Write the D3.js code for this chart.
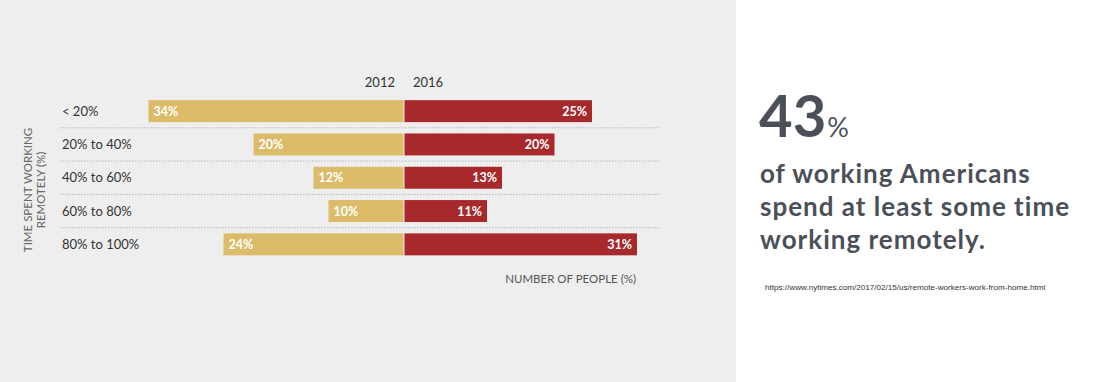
<!DOCTYPE html>
<html>
<head>
<meta charset="utf-8">
<script src="https://cdn.jsdelivr.net/npm/d3@7"></script>
<style>
  html, body { margin: 0; padding: 0; background: #ffffff; }
  svg { display: block; font-family: Lato, "Open Sans", sans-serif; }
</style>
</head>
<body>
<div id="chart"></div>
<script>
const categories = ["< 20%", "20% to 40%", "40% to 60%", "60% to 80%", "80% to 100%"];
const values2012 = [34, 20, 12, 10, 24];
const values2016 = [25, 20, 13, 11, 31];
const seriesLabels = ["2012", "2016"];
const yAxisTitle = ["TIME SPENT WORKING", "REMOTELY (%)"];
const xAxisTitle = "NUMBER OF PEOPLE (%)";
const statNumber = "43";
const statLines = ["of working Americans", "spend at least some time", "working remotely."];
const sourceUrl = "https://www.nytimes.com/2017/02/15/us/remote-workers-work-from-home.html";

const W = 1100, H = 382;
const svg = d3.select("#chart").append("svg").attr("width", W).attr("height", H);

// panels
svg.append("rect").attr("x", 0).attr("y", 0).attr("width", 736).attr("height", H).attr("fill", "#eeeeee");
svg.append("rect").attr("x", 736).attr("y", 0).attr("width", W - 736).attr("height", H).attr("fill", "#ffffff");

const gold = "#dcbc69", red = "#a8292b";

const y = d3.scaleBand().domain(categories).range([94.5, 261]).paddingInner(0.34).paddingOuter(0.17);
const xL = d3.scaleLinear().domain([0, 40]).range([403.5, 103.5]);
const xR = d3.scaleLinear().domain([0, 40]).range([404.5, 704.5]);

// dotted separators
const sepG = svg.append("g");
categories.slice(0, -1).forEach(c => {
  const yy = y(c) + y.bandwidth() + (y.step() - y.bandwidth()) / 2;
  sepG.append("line").attr("x1", 60).attr("x2", 660).attr("y1", yy).attr("y2", yy)
    .attr("stroke", "#b8b8b8").attr("stroke-width", 1).attr("stroke-dasharray", "1.5,1.5");
});

// bars
svg.append("g").selectAll("rect").data(categories).join("rect")
  .attr("x", (d, i) => xL(values2012[i])).attr("y", d => y(d))
  .attr("width", (d, i) => xL(0) - xL(values2012[i])).attr("height", y.bandwidth())
  .attr("fill", gold);
svg.append("g").selectAll("rect").data(categories).join("rect")
  .attr("x", xR(0)).attr("y", d => y(d))
  .attr("width", (d, i) => xR(values2016[i]) - xR(0)).attr("height", y.bandwidth())
  .attr("fill", red);

// bar labels
svg.append("g").selectAll("text").data(categories).join("text")
  .attr("x", (d, i) => xL(values2012[i]) + 5).attr("y", d => y(d) + y.bandwidth() / 2)
  .attr("dy", "0.36em").attr("fill", "#ffffff").attr("font-weight", 700).attr("font-size", 12.5)
  .text((d, i) => values2012[i] + "%");
svg.append("g").selectAll("text").data(categories).join("text")
  .attr("x", (d, i) => xR(values2016[i]) - 5).attr("y", d => y(d) + y.bandwidth() / 2)
  .attr("dy", "0.36em").attr("text-anchor", "end").attr("fill", "#ffffff").attr("font-weight", 700).attr("font-size", 12.5)
  .text((d, i) => values2016[i] + "%");

// category labels
svg.append("g").selectAll("text").data(categories).join("text")
  .attr("x", 62).attr("y", d => y(d) + y.bandwidth() / 2).attr("dy", "0.36em")
  .attr("fill", "#333333").attr("font-size", 13).text(d => d);

// series headers
svg.append("text").attr("x", 395).attr("y", 87).attr("text-anchor", "end")
  .attr("fill", "#333333").attr("font-size", 13).text(seriesLabels[0]);
svg.append("text").attr("x", 413).attr("y", 87)
  .attr("fill", "#333333").attr("font-size", 13).text(seriesLabels[1]);

// y axis title
const yt = svg.append("text").attr("transform", "translate(0,190) rotate(-90)")
  .attr("text-anchor", "middle").attr("fill", "#666666").attr("font-size", 11.5);
yt.append("tspan").attr("x", 0).attr("y", 32).text(yAxisTitle[0]);
yt.append("tspan").attr("x", 0).attr("y", 45).text(yAxisTitle[1]);

// x axis title
svg.append("text").attr("x", 636).attr("y", 283).attr("text-anchor", "end")
  .attr("fill", "#555555").attr("font-size", 11.5).text(xAxisTitle);

// right panel
const stat = svg.append("text").attr("x", 759).attr("y", 137).attr("fill", "#4b5058").attr("font-weight", 700);
stat.append("tspan").attr("font-size", 58).text(statNumber);
stat.append("tspan").attr("font-size", 27).attr("font-weight", 400).attr("dx", 1).text("%");

svg.append("g").selectAll("text").data(statLines).join("text")
  .attr("x", 760).attr("y", (d, i) => 183 + i * 33)
  .attr("fill", "#4b5058").attr("font-weight", 700).attr("font-size", 26)
  .attr("letter-spacing", 1).text(d => d);

svg.append("text").attr("x", 765).attr("y", 290).attr("fill", "#333333")
  .style("font-family", "'Liberation Sans', Arial, sans-serif").attr("font-size", 8.1).text(sourceUrl);
</script>
</body>
</html>
